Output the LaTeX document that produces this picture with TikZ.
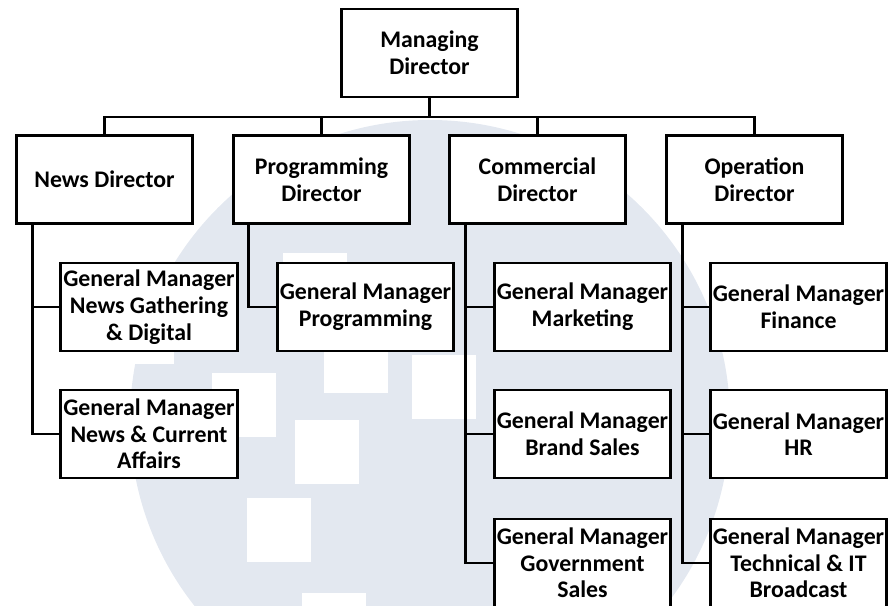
\documentclass[tikz,border=0pt]{standalone}
\usepackage{fontspec}
\setmainfont{Carlito}
\definecolor{wmgrey}{RGB}{227,232,240}
\tikzset{
  box/.style={draw=black, fill=white, line width=2.8pt, rectangle, inner sep=0pt,
    minimum width=176.5pt, minimum height=88pt, align=center,
    font=\fontsize{23.8}{26.7}\selectfont\bfseries},
  link/.style={draw=black, line width=2.8pt}
}
\begin{document}
\begin{tikzpicture}[x=1pt,y=-1pt]
\useasboundingbox (0,0) rectangle (891,605);
\clip (0,0) rectangle (891,605);
% watermark
\fill[wmgrey] (430,420) circle (300);
\foreach \x/\y in {212/373, 295/420, 247/498, 302/593, 324/329, 412/355, 283/253, 110/300}
  \fill[white] (\x,\y) rectangle ++(64,64);
% boxes
\node[box] (md) at (429.5,53) {Managing\\Director};
\node[box] (nd) at (104.5,179.5) {News Director};
\node[box] (pd) at (321.5,179.5) {Programming\\Director};
\node[box] (cd) at (537.5,179.5) {Commercial\\Director};
\node[box] (od) at (754.5,179.5) {Operation\\Director};
\node[box] (n1) at (149,307) {General Manager\\News Gathering\\\& Digital};
\node[box] (n2) at (149,434) {General Manager\\News \& Current\\Affairs};
\node[box] (p1) at (365.5,307) {General Manager\\Programming};
\node[box] (c1) at (582.5,307) {General Manager\\Marketing};
\node[box] (c2) at (582.5,434) {General Manager\\Brand Sales};
\node[box] (c3) at (582.5,563) {General Manager\\Government\\Sales};
\node[box] (o1) at (798.5,307) {General Manager\\Finance};
\node[box] (o2) at (798.5,434) {General Manager\\HR};
\node[box] (o3) at (798.5,563) {General Manager\\Technical \& IT\\Broadcast};
% bus
\coordinate (bus) at (0,117);
\draw[link] (md.south) -- (md.south |- bus);
\draw[link] (nd.north) -- (nd.north |- bus) -- (od.north |- bus) -- (od.north);
\draw[link] (pd.north) -- (pd.north |- bus);
\draw[link] (cd.north) -- (cd.north |- bus);
% branches
\coordinate (nv) at ([xshift=18pt]nd.south west);
\coordinate (pv) at ([xshift=17pt]pd.south west);
\coordinate (cv) at ([xshift=18pt]cd.south west);
\coordinate (ov) at ([xshift=18pt]od.south west);
\draw[link] (nv) |- (n2.west);
\draw[link] (nv) |- (n1.west);
\draw[link] (pv) |- (p1.west);
\draw[link] (cv) |- (c3.west);
\draw[link] (cv) |- (c2.west);
\draw[link] (cv) |- (c1.west);
\draw[link] (ov) |- (o3.west);
\draw[link] (ov) |- (o2.west);
\draw[link] (ov) |- (o1.west);
\end{tikzpicture}
\end{document}
